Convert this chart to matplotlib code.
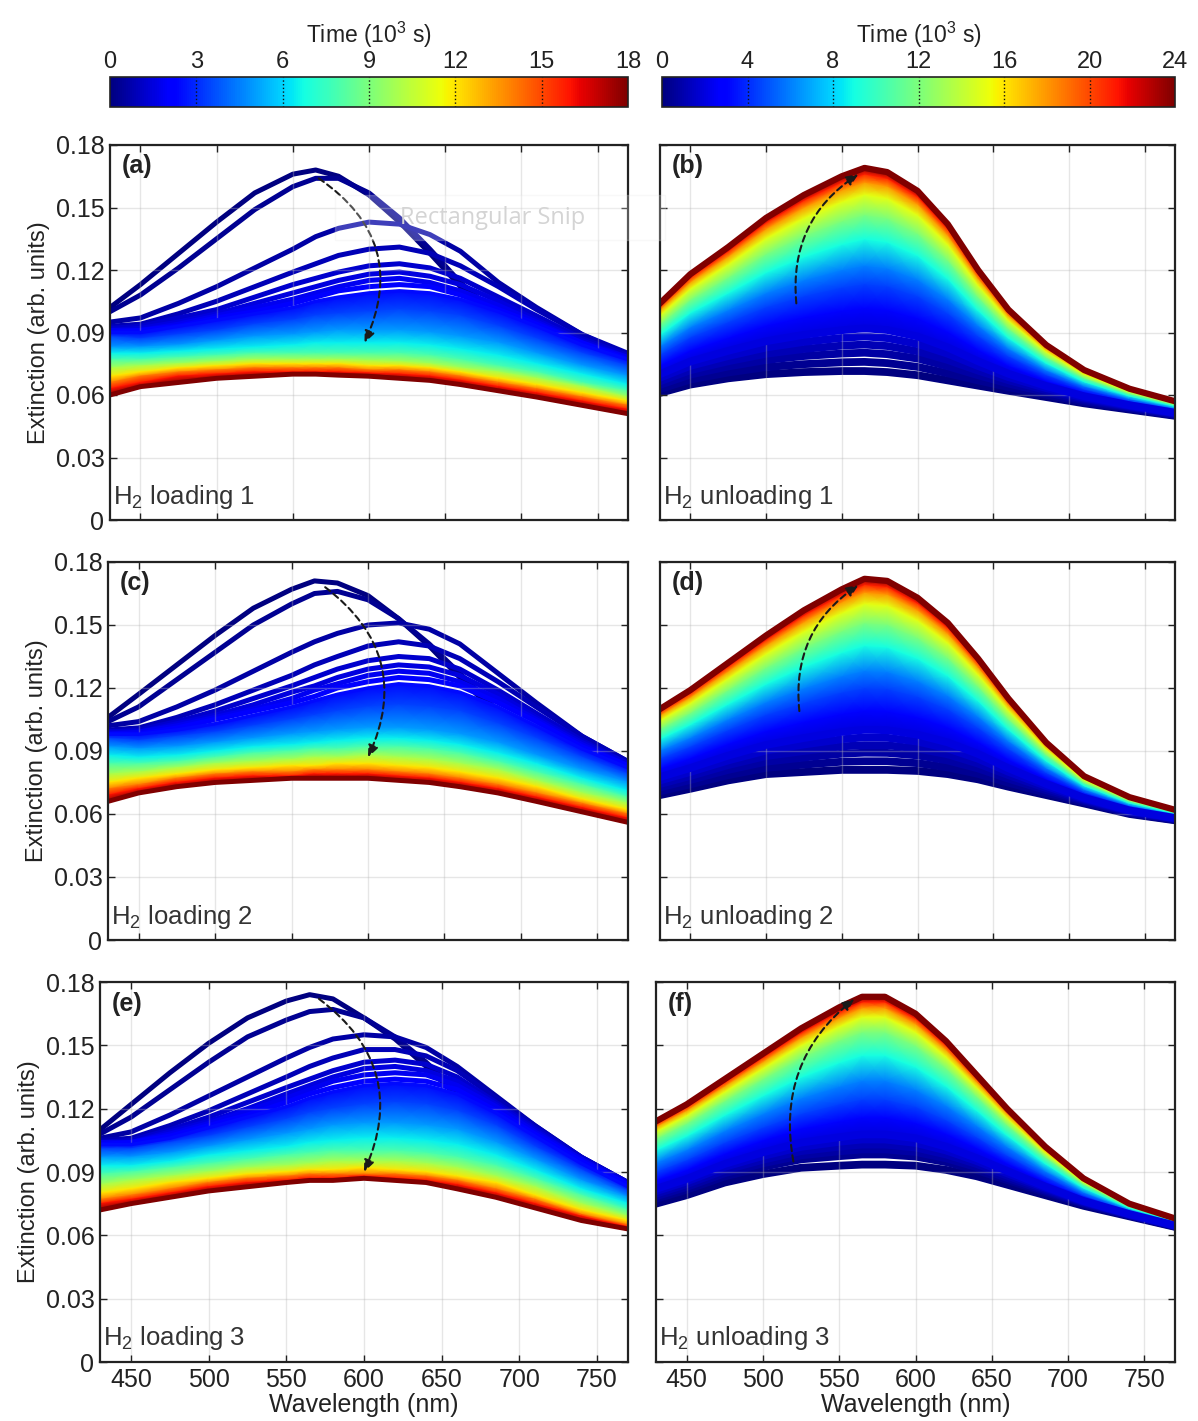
import numpy as np
import matplotlib
matplotlib.use("Agg")
import matplotlib.pyplot as plt
from matplotlib.colors import Normalize
from matplotlib.cm import ScalarMappable
from matplotlib.patches import Rectangle

plt.rcParams['font.family'] = ['Liberation Sans', 'DejaVu Sans']
plt.rcParams['mathtext.fontset'] = 'custom'
plt.rcParams['mathtext.rm'] = 'Liberation Sans'
plt.rcParams['mathtext.it'] = 'Liberation Sans:italic'

WL = [430, 450, 475, 500, 525, 550, 565, 580, 600, 620, 640, 660, 685, 710, 740, 770]

# times (10^3 s) of the spectra drawn as separate lines and of those drawn as a shaded band
LOAD_T_LINES = [0, 0.3, 0.6, 0.9, 1.2, 1.5, 1.8, 2.1]
LOAD_T_MESH = [2.4, 3.5, 5, 6.5, 8, 10, 12, 14, 16, 18]
UNLOAD_T_LINES = [0, 0.4, 0.8, 1.2, 1.6]
UNLOAD_T_MESH = [2, 3, 4.5, 6, 9, 12, 15, 18, 21, 24]

# (a) H2 loading 1
A_LINES = [
    [0.102, 0.113, 0.128, 0.143, 0.157, 0.166, 0.168, 0.165, 0.156, 0.143, 0.128, 0.112, 0.096, 0.085, 0.075, 0.068],
    [0.100, 0.108, 0.121, 0.135, 0.149, 0.160, 0.164, 0.164, 0.157, 0.145, 0.130, 0.114, 0.098, 0.086, 0.076, 0.069],
    [0.095, 0.097, 0.104, 0.112, 0.121, 0.130, 0.136, 0.140, 0.143, 0.142, 0.137, 0.129, 0.114, 0.102, 0.089, 0.079],
    [0.093, 0.094, 0.099, 0.105, 0.112, 0.119, 0.123, 0.127, 0.130, 0.131, 0.128, 0.122, 0.112, 0.101, 0.089, 0.080],
    [0.092, 0.093, 0.097, 0.101, 0.107, 0.113, 0.116, 0.119, 0.122, 0.123, 0.121, 0.116, 0.107, 0.098, 0.087, 0.079],
    [0.091, 0.092, 0.095, 0.099, 0.104, 0.109, 0.112, 0.115, 0.118, 0.119, 0.117, 0.113, 0.105, 0.096, 0.086, 0.078],
    [0.091, 0.091, 0.094, 0.098, 0.102, 0.106, 0.109, 0.112, 0.115, 0.116, 0.114, 0.110, 0.103, 0.095, 0.085, 0.078],
    [0.090, 0.091, 0.093, 0.097, 0.100, 0.104, 0.107, 0.110, 0.112, 0.113, 0.112, 0.108, 0.101, 0.094, 0.085, 0.077],
]
A_MESH = [
    [0.090, 0.090, 0.093, 0.096, 0.099, 0.102, 0.105, 0.107, 0.109, 0.110, 0.109, 0.106, 0.100, 0.093, 0.084, 0.077],
    [0.088, 0.087, 0.089, 0.091, 0.094, 0.096, 0.098, 0.099, 0.100, 0.101, 0.100, 0.098, 0.093, 0.087, 0.080, 0.074],
    [0.083, 0.083, 0.084, 0.086, 0.088, 0.089, 0.090, 0.091, 0.091, 0.091, 0.090, 0.088, 0.085, 0.080, 0.074, 0.069],
    [0.080, 0.080, 0.081, 0.082, 0.083, 0.084, 0.085, 0.085, 0.085, 0.085, 0.084, 0.082, 0.079, 0.075, 0.070, 0.065],
    [0.077, 0.077, 0.078, 0.079, 0.080, 0.080, 0.080, 0.080, 0.080, 0.080, 0.079, 0.077, 0.074, 0.071, 0.066, 0.062],
    [0.073, 0.074, 0.075, 0.076, 0.077, 0.077, 0.077, 0.077, 0.0765, 0.076, 0.075, 0.073, 0.071, 0.068, 0.064, 0.059],
    [0.069, 0.071, 0.073, 0.074, 0.075, 0.075, 0.075, 0.075, 0.074, 0.074, 0.073, 0.071, 0.068, 0.065, 0.061, 0.057],
    [0.066, 0.069, 0.071, 0.072, 0.073, 0.073, 0.073, 0.073, 0.072, 0.072, 0.071, 0.069, 0.066, 0.063, 0.059, 0.055],
    [0.063, 0.066, 0.069, 0.070, 0.071, 0.071, 0.071, 0.071, 0.0705, 0.070, 0.069, 0.067, 0.064, 0.061, 0.057, 0.053],
    [0.060, 0.064, 0.066, 0.068, 0.069, 0.070, 0.070, 0.0695, 0.069, 0.068, 0.067, 0.065, 0.062, 0.059, 0.055, 0.051],
]

# (c) H2 loading 2
C_LINES = [
    [0.106, 0.117, 0.131, 0.145, 0.158, 0.167, 0.171, 0.170, 0.164, 0.153, 0.140, 0.125, 0.107, 0.093, 0.081, 0.073],
    [0.104, 0.111, 0.124, 0.137, 0.150, 0.160, 0.165, 0.166, 0.162, 0.153, 0.141, 0.127, 0.109, 0.095, 0.082, 0.074],
    [0.102, 0.104, 0.111, 0.119, 0.128, 0.137, 0.142, 0.146, 0.150, 0.151, 0.148, 0.141, 0.127, 0.113, 0.097, 0.085],
    [0.100, 0.101, 0.106, 0.112, 0.119, 0.126, 0.131, 0.135, 0.140, 0.142, 0.140, 0.134, 0.123, 0.111, 0.097, 0.085],
    [0.099, 0.100, 0.104, 0.109, 0.115, 0.121, 0.125, 0.129, 0.133, 0.135, 0.134, 0.129, 0.119, 0.108, 0.095, 0.084],
    [0.099, 0.099, 0.103, 0.107, 0.112, 0.118, 0.121, 0.125, 0.129, 0.131, 0.130, 0.126, 0.117, 0.106, 0.094, 0.084],
    [0.098, 0.099, 0.102, 0.106, 0.110, 0.115, 0.119, 0.122, 0.126, 0.128, 0.127, 0.123, 0.115, 0.105, 0.093, 0.083],
    [0.098, 0.098, 0.101, 0.105, 0.109, 0.113, 0.116, 0.120, 0.123, 0.125, 0.124, 0.121, 0.113, 0.104, 0.092, 0.083],
]
C_MESH = [
    [0.098, 0.098, 0.100, 0.103, 0.107, 0.111, 0.114, 0.117, 0.120, 0.122, 0.121, 0.118, 0.111, 0.102, 0.091, 0.082],
    [0.096, 0.095, 0.097, 0.099, 0.102, 0.105, 0.107, 0.109, 0.111, 0.112, 0.111, 0.109, 0.103, 0.096, 0.087, 0.079],
    [0.092, 0.091, 0.092, 0.094, 0.096, 0.098, 0.099, 0.100, 0.101, 0.101, 0.100, 0.098, 0.094, 0.088, 0.081, 0.075],
    [0.088, 0.087, 0.088, 0.090, 0.092, 0.093, 0.094, 0.095, 0.096, 0.096, 0.095, 0.093, 0.089, 0.084, 0.077, 0.071],
    [0.084, 0.084, 0.085, 0.087, 0.089, 0.090, 0.091, 0.091, 0.092, 0.092, 0.091, 0.089, 0.085, 0.080, 0.074, 0.068],
    [0.079, 0.080, 0.082, 0.084, 0.085, 0.086, 0.087, 0.087, 0.088, 0.087, 0.086, 0.084, 0.081, 0.076, 0.070, 0.065],
    [0.075, 0.077, 0.079, 0.081, 0.082, 0.083, 0.083, 0.084, 0.084, 0.083, 0.082, 0.080, 0.077, 0.073, 0.067, 0.062],
    [0.072, 0.074, 0.077, 0.079, 0.080, 0.080, 0.081, 0.081, 0.081, 0.080, 0.079, 0.077, 0.074, 0.070, 0.065, 0.060],
    [0.069, 0.072, 0.075, 0.077, 0.078, 0.078, 0.079, 0.079, 0.079, 0.078, 0.077, 0.075, 0.072, 0.068, 0.063, 0.058],
    [0.066, 0.070, 0.073, 0.075, 0.076, 0.077, 0.077, 0.077, 0.077, 0.076, 0.075, 0.073, 0.070, 0.066, 0.061, 0.056],
]

# (e) H2 loading 3
E_LINES = [
    [0.110, 0.122, 0.137, 0.151, 0.163, 0.171, 0.174, 0.172, 0.163, 0.153, 0.140, 0.126, 0.110, 0.097, 0.087, 0.079],
    [0.108, 0.116, 0.129, 0.142, 0.154, 0.162, 0.166, 0.167, 0.163, 0.154, 0.142, 0.128, 0.112, 0.099, 0.088, 0.080],
    [0.106, 0.109, 0.117, 0.126, 0.135, 0.144, 0.149, 0.153, 0.155, 0.154, 0.149, 0.140, 0.126, 0.112, 0.097, 0.085],
    [0.105, 0.106, 0.112, 0.119, 0.127, 0.135, 0.140, 0.144, 0.148, 0.148, 0.145, 0.138, 0.125, 0.112, 0.097, 0.085],
    [0.104, 0.105, 0.110, 0.116, 0.123, 0.130, 0.134, 0.138, 0.142, 0.143, 0.141, 0.135, 0.123, 0.111, 0.097, 0.085],
    [0.104, 0.104, 0.109, 0.114, 0.120, 0.127, 0.131, 0.135, 0.139, 0.140, 0.138, 0.133, 0.122, 0.110, 0.096, 0.085],
    [0.104, 0.104, 0.108, 0.113, 0.119, 0.125, 0.129, 0.133, 0.136, 0.137, 0.136, 0.131, 0.121, 0.109, 0.096, 0.084],
    [0.103, 0.104, 0.107, 0.112, 0.117, 0.123, 0.127, 0.130, 0.133, 0.134, 0.133, 0.129, 0.119, 0.108, 0.095, 0.084],
]
E_MESH = [
    [0.103, 0.103, 0.106, 0.111, 0.116, 0.121, 0.125, 0.128, 0.131, 0.132, 0.131, 0.127, 0.118, 0.107, 0.094, 0.083],
    [0.101, 0.101, 0.104, 0.107, 0.111, 0.115, 0.118, 0.120, 0.122, 0.123, 0.122, 0.119, 0.112, 0.102, 0.091, 0.081],
    [0.097, 0.097, 0.099, 0.102, 0.105, 0.108, 0.110, 0.112, 0.113, 0.113, 0.112, 0.110, 0.104, 0.096, 0.086, 0.078],
    [0.093, 0.093, 0.095, 0.098, 0.100, 0.102, 0.104, 0.105, 0.106, 0.106, 0.105, 0.103, 0.098, 0.091, 0.082, 0.075],
    [0.089, 0.090, 0.092, 0.094, 0.096, 0.098, 0.099, 0.100, 0.100, 0.100, 0.099, 0.097, 0.093, 0.087, 0.079, 0.072],
    [0.084, 0.086, 0.088, 0.090, 0.092, 0.093, 0.094, 0.095, 0.095, 0.095, 0.094, 0.092, 0.088, 0.083, 0.075, 0.069],
    [0.080, 0.082, 0.085, 0.087, 0.089, 0.090, 0.091, 0.091, 0.092, 0.091, 0.090, 0.088, 0.085, 0.079, 0.072, 0.067],
    [0.077, 0.079, 0.082, 0.085, 0.087, 0.088, 0.089, 0.089, 0.089, 0.089, 0.088, 0.086, 0.082, 0.077, 0.070, 0.065],
    [0.075, 0.077, 0.080, 0.083, 0.085, 0.086, 0.087, 0.087, 0.088, 0.087, 0.086, 0.084, 0.080, 0.075, 0.069, 0.064],
    [0.072, 0.075, 0.078, 0.081, 0.083, 0.085, 0.086, 0.086, 0.087, 0.086, 0.085, 0.082, 0.078, 0.073, 0.067, 0.063],
]

# (b) H2 unloading 1
B_LINES = [
    [0.0610, 0.0650, 0.0680, 0.0700, 0.0710, 0.0715, 0.0715, 0.0710, 0.0695, 0.0670, 0.0645, 0.0620, 0.0590, 0.0560, 0.0530, 0.0500],
    [0.0629, 0.0674, 0.0708, 0.0734, 0.0748, 0.0757, 0.0759, 0.0753, 0.0735, 0.0704, 0.0670, 0.0638, 0.0601, 0.0567, 0.0535, 0.0503],
    [0.0649, 0.0698, 0.0737, 0.0768, 0.0787, 0.0799, 0.0803, 0.0796, 0.0775, 0.0738, 0.0695, 0.0655, 0.0613, 0.0574, 0.0539, 0.0506],
    [0.0666, 0.0719, 0.0762, 0.0798, 0.0821, 0.0837, 0.0842, 0.0835, 0.0810, 0.0768, 0.0717, 0.0671, 0.0623, 0.0581, 0.0543, 0.0509],
    [0.0683, 0.0740, 0.0787, 0.0828, 0.0855, 0.0874, 0.0881, 0.0873, 0.0845, 0.0798, 0.0739, 0.0686, 0.0633, 0.0587, 0.0547, 0.0512],
]
B_MESH = [
    [0.0700, 0.0761, 0.0812, 0.0858, 0.0889, 0.0911, 0.0920, 0.0912, 0.0881, 0.0828, 0.0762, 0.0702, 0.0643, 0.0594, 0.0551, 0.0515],
    [0.0743, 0.0814, 0.0875, 0.0933, 0.0974, 0.1005, 0.1017, 0.1008, 0.0969, 0.0903, 0.0817, 0.0741, 0.0668, 0.0610, 0.0561, 0.0522],
    [0.0795, 0.0878, 0.0951, 0.1023, 0.1076, 0.1117, 0.1134, 0.1123, 0.1076, 0.0993, 0.0884, 0.0788, 0.0698, 0.0629, 0.0573, 0.0530],
    [0.0834, 0.0926, 0.1008, 0.1090, 0.1152, 0.1201, 0.1222, 0.1209, 0.1155, 0.1060, 0.0934, 0.0823, 0.0720, 0.0643, 0.0582, 0.0536],
    [0.0890, 0.0995, 0.1090, 0.1188, 0.1263, 0.1323, 0.1349, 0.1334, 0.1270, 0.1158, 0.1006, 0.0874, 0.0753, 0.0664, 0.0595, 0.0546],
    [0.0941, 0.1058, 0.1165, 0.1278, 0.1365, 0.1435, 0.1466, 0.1449, 0.1376, 0.1248, 0.1072, 0.0920, 0.0783, 0.0683, 0.0607, 0.0554],
    [0.0984, 0.1111, 0.1228, 0.1353, 0.1450, 0.1528, 0.1563, 0.1545, 0.1465, 0.1323, 0.1128, 0.0959, 0.0808, 0.0699, 0.0617, 0.0561],
    [0.1010, 0.1143, 0.1266, 0.1398, 0.1501, 0.1585, 0.1622, 0.1603, 0.1518, 0.1368, 0.1161, 0.0983, 0.0823, 0.0709, 0.0623, 0.0565],
    [0.1027, 0.1164, 0.1291, 0.1428, 0.1535, 0.1622, 0.1661, 0.1641, 0.1553, 0.1398, 0.1183, 0.0998, 0.0833, 0.0715, 0.0627, 0.0568],
    [0.1040, 0.1180, 0.1310, 0.1450, 0.1560, 0.1650, 0.1690, 0.1670, 0.1580, 0.1420, 0.1200, 0.1010, 0.0840, 0.0720, 0.0630, 0.0570],
]

# (d) H2 unloading 2
D_LINES = [
    [0.0690, 0.0720, 0.0760, 0.0790, 0.0800, 0.0810, 0.0810, 0.0810, 0.0805, 0.0790, 0.0765, 0.0730, 0.0690, 0.0650, 0.0600, 0.0570],
    [0.0708, 0.0741, 0.0785, 0.0820, 0.0835, 0.0849, 0.0851, 0.0851, 0.0842, 0.0822, 0.0791, 0.0749, 0.0701, 0.0656, 0.0604, 0.0572],
    [0.0727, 0.0762, 0.0810, 0.0849, 0.0869, 0.0887, 0.0892, 0.0891, 0.0879, 0.0855, 0.0817, 0.0768, 0.0713, 0.0662, 0.0607, 0.0575],
    [0.0743, 0.0781, 0.0833, 0.0876, 0.0900, 0.0922, 0.0928, 0.0927, 0.0912, 0.0884, 0.0840, 0.0785, 0.0723, 0.0667, 0.0610, 0.0577],
    [0.0760, 0.0800, 0.0855, 0.0902, 0.0931, 0.0956, 0.0965, 0.0963, 0.0945, 0.0912, 0.0863, 0.0801, 0.0733, 0.0672, 0.0614, 0.0579],
]
D_MESH = [
    [0.0776, 0.0819, 0.0878, 0.0929, 0.0962, 0.0991, 0.1001, 0.0999, 0.0978, 0.0941, 0.0886, 0.0818, 0.0743, 0.0677, 0.0617, 0.0581],
    [0.0817, 0.0866, 0.0934, 0.0995, 0.1039, 0.1077, 0.1092, 0.1089, 0.1061, 0.1013, 0.0943, 0.0860, 0.0768, 0.0690, 0.0625, 0.0586],
    [0.0866, 0.0922, 0.1001, 0.1074, 0.1131, 0.1180, 0.1201, 0.1197, 0.1160, 0.1100, 0.1012, 0.0911, 0.0798, 0.0706, 0.0634, 0.0592],
    [0.0903, 0.0964, 0.1051, 0.1133, 0.1200, 0.1257, 0.1283, 0.1278, 0.1234, 0.1164, 0.1064, 0.0948, 0.0820, 0.0718, 0.0642, 0.0596],
    [0.0957, 0.1026, 0.1124, 0.1219, 0.1301, 0.1369, 0.1402, 0.1395, 0.1341, 0.1258, 0.1139, 0.1003, 0.0853, 0.0735, 0.0652, 0.0603],
    [0.1006, 0.1082, 0.1191, 0.1298, 0.1393, 0.1472, 0.1511, 0.1503, 0.1440, 0.1344, 0.1208, 0.1053, 0.0883, 0.0750, 0.0662, 0.0609],
    [0.1047, 0.1129, 0.1247, 0.1364, 0.1470, 0.1558, 0.1602, 0.1593, 0.1523, 0.1416, 0.1265, 0.1095, 0.0908, 0.0763, 0.0670, 0.0614],
    [0.1071, 0.1157, 0.1281, 0.1404, 0.1516, 0.1610, 0.1656, 0.1647, 0.1572, 0.1460, 0.1300, 0.1121, 0.0923, 0.0771, 0.0674, 0.0617],
    [0.1088, 0.1176, 0.1303, 0.1430, 0.1547, 0.1644, 0.1693, 0.1683, 0.1605, 0.1488, 0.1323, 0.1137, 0.0933, 0.0776, 0.0678, 0.0619],
    [0.1100, 0.1190, 0.1320, 0.1450, 0.1570, 0.1670, 0.1720, 0.1710, 0.1630, 0.1510, 0.1340, 0.1150, 0.0940, 0.0780, 0.0680, 0.0620],
]

# (f) H2 unloading 3
F_LINES = [
    [0.0750, 0.0790, 0.0850, 0.0890, 0.0920, 0.0930, 0.0935, 0.0935, 0.0930, 0.0910, 0.0880, 0.0840, 0.0790, 0.0740, 0.0690, 0.0640],
    [0.0773, 0.0816, 0.0879, 0.0924, 0.0960, 0.0975, 0.0983, 0.0983, 0.0973, 0.0947, 0.0909, 0.0862, 0.0804, 0.0748, 0.0694, 0.0642],
    [0.0785, 0.0829, 0.0894, 0.0941, 0.0979, 0.0998, 0.1007, 0.1007, 0.0995, 0.0965, 0.0923, 0.0872, 0.0811, 0.0752, 0.0695, 0.0644],
    [0.0797, 0.0842, 0.0909, 0.0958, 0.0999, 0.1020, 0.1030, 0.1030, 0.1016, 0.0983, 0.0938, 0.0883, 0.0818, 0.0756, 0.0697, 0.0645],
    [0.0809, 0.0855, 0.0924, 0.0976, 0.1019, 0.1043, 0.1054, 0.1054, 0.1038, 0.1002, 0.0952, 0.0894, 0.0825, 0.0760, 0.0699, 0.0646],
]
F_MESH = [
    [0.0820, 0.0867, 0.0938, 0.0993, 0.1039, 0.1065, 0.1078, 0.1078, 0.1060, 0.1020, 0.0966, 0.0905, 0.0831, 0.0763, 0.0701, 0.0647],
    [0.0859, 0.0910, 0.0987, 0.1050, 0.1105, 0.1140, 0.1158, 0.1158, 0.1132, 0.1081, 0.1014, 0.0941, 0.0854, 0.0776, 0.0707, 0.0651],
    [0.0902, 0.0958, 0.1041, 0.1112, 0.1177, 0.1223, 0.1245, 0.1245, 0.1211, 0.1148, 0.1067, 0.0980, 0.0880, 0.0791, 0.0713, 0.0656],
    [0.0945, 0.1005, 0.1095, 0.1175, 0.1250, 0.1305, 0.1333, 0.1333, 0.1290, 0.1215, 0.1120, 0.1020, 0.0905, 0.0805, 0.0720, 0.0660],
    [0.1004, 0.1070, 0.1169, 0.1261, 0.1349, 0.1418, 0.1452, 0.1452, 0.1398, 0.1307, 0.1192, 0.1074, 0.0940, 0.0825, 0.0729, 0.0666],
    [0.1058, 0.1130, 0.1237, 0.1340, 0.1441, 0.1523, 0.1563, 0.1563, 0.1499, 0.1392, 0.1259, 0.1124, 0.0972, 0.0843, 0.0737, 0.0672],
    [0.1093, 0.1168, 0.1281, 0.1392, 0.1501, 0.1590, 0.1635, 0.1635, 0.1564, 0.1447, 0.1302, 0.1157, 0.0992, 0.0854, 0.0743, 0.0675],
    [0.1115, 0.1192, 0.1308, 0.1423, 0.1537, 0.1631, 0.1678, 0.1678, 0.1603, 0.1480, 0.1329, 0.1177, 0.1005, 0.0862, 0.0746, 0.0677],
    [0.1128, 0.1207, 0.1325, 0.1443, 0.1560, 0.1658, 0.1706, 0.1706, 0.1628, 0.1502, 0.1346, 0.1189, 0.1013, 0.0866, 0.0748, 0.0679],
    [0.1140, 0.1220, 0.1340, 0.1460, 0.1580, 0.1680, 0.1730, 0.1730, 0.1650, 0.1520, 0.1360, 0.1200, 0.1020, 0.0870, 0.0750, 0.0680],
]

# dashed guide arrows (start, end, curvature)
A_ARROW = ((567, 0.164), (597, 0.085), -0.42)
C_ARROW = ((572, 0.168), (600, 0.087), -0.40)
E_ARROW = ((571, 0.172), (600, 0.090), -0.40)
B_ARROW = ((520, 0.104), (561, 0.166), -0.30)
D_ARROW = ((522, 0.109), (561, 0.169), -0.30)
F_ARROW = ((520, 0.095), (560, 0.172), -0.30)

LETTERS = ['(a)', '(b)', '(c)', '(d)', '(e)', '(f)']
NAMES = ['loading 1', 'unloading 1', 'loading 2', 'unloading 2', 'loading 3', 'unloading 3']

X_TICKS = [450, 500, 550, 600, 650, 700, 750]
Y_TICKS = [0, 0.03, 0.06, 0.09, 0.12, 0.15, 0.18]
Y_TICKLABELS = ['0', '0.03', '0.06', '0.09', '0.12', '0.15', '0.18']
CB_LOAD_TICKS = [0, 3, 6, 9, 12, 15, 18]
CB_UNLOAD_TICKS = [0, 4, 8, 12, 16, 20, 24]

W, H = 1198, 1421
TXT = '#222222'


def rect(l, t, r, b):
    return [l / W, 1 - b / H, (r - l) / W, (b - t) / H]


def draw_panel(ax, t_lines, y_lines, t_mesh, y_mesh, tmax, unloading):
    cmap = plt.get_cmap('jet')
    norm = Normalize(0, tmax)
    lw = 5.6 if unloading else 3.6
    for i, (t, y) in enumerate(zip(t_lines, y_lines)):
        ax.plot(WL, y, color=cmap(norm(t)), lw=lw, zorder=2 + 0.01 * i,
                solid_joinstyle='round')
    X = np.tile(np.array(WL, float), (len(t_mesh), 1))
    Y = np.array(y_mesh)
    C = np.repeat(np.array(t_mesh, float)[:, None], len(WL), axis=1)
    ax.pcolormesh(X, Y, C, shading='gouraud', cmap=cmap, norm=norm, zorder=3)
    ax.plot(WL, y_mesh[0], color=cmap(norm(t_mesh[0])),
            lw=lw if unloading else 2.5, zorder=3.1)
    ax.plot(WL, y_mesh[-1], color=cmap(norm(t_mesh[-1])),
            lw=4.5 if unloading else 3.5, zorder=3.2, solid_joinstyle='round')


fig = plt.figure(figsize=(W / 100, H / 100), dpi=100)

panel_rects = [
    rect(110, 145, 628, 520), rect(660, 145, 1175, 520),
    rect(108, 562, 628, 940), rect(660, 562, 1175, 940),
    rect(100, 982, 628, 1362), rect(656, 982, 1175, 1362),
]
panel_data = [
    (LOAD_T_LINES, A_LINES, LOAD_T_MESH, A_MESH, 18, False, A_ARROW),
    (UNLOAD_T_LINES, B_LINES, UNLOAD_T_MESH, B_MESH, 24, True, B_ARROW),
    (LOAD_T_LINES, C_LINES, LOAD_T_MESH, C_MESH, 18, False, C_ARROW),
    (UNLOAD_T_LINES, D_LINES, UNLOAD_T_MESH, D_MESH, 24, True, D_ARROW),
    (LOAD_T_LINES, E_LINES, LOAD_T_MESH, E_MESH, 18, False, E_ARROW),
    (UNLOAD_T_LINES, F_LINES, UNLOAD_T_MESH, F_MESH, 24, True, F_ARROW),
]

for k, (r, d) in enumerate(zip(panel_rects, panel_data)):
    ax = fig.add_axes(r)
    t_l, y_l, t_m, y_m, tmax, unl, arrow = d
    draw_panel(ax, t_l, y_l, t_m, y_m, tmax, unl)
    ax.set_xlim(430, 770)
    ax.set_ylim(0, 0.18)
    ax.set_xticks(X_TICKS)
    ax.set_yticks(Y_TICKS)
    ax.set_axisbelow(False)
    ax.grid(True, color='#b8b8b8', lw=1.0, alpha=0.35)
    ax.tick_params(direction='in', length=5, width=1, top=True, right=True,
                   labelsize=18, colors=TXT, pad=4)
    for s in ax.spines.values():
        s.set_linewidth(1.6)
        s.set_color(TXT)
        s.set_zorder(7)
    col = k % 2
    row = k // 2
    if col == 0:
        ax.set_yticklabels(Y_TICKLABELS)
        ax.set_ylabel('Extinction (arb. units)', fontsize=17, color=TXT, labelpad=4)
    else:
        ax.tick_params(labelleft=False)
    if row == 2:
        ax.set_xlabel('Wavelength (nm)', fontsize=18, color=TXT, labelpad=1)
    else:
        ax.tick_params(labelbottom=False)
    (x0, y0), (x1, y1), rad = arrow
    ax.annotate('', xy=(x1, y1), xytext=(x0, y0), zorder=6,
                arrowprops=dict(arrowstyle='-|>,head_length=0.7,head_width=0.3',
                                connectionstyle='arc3,rad=%s' % rad,
                                color='#1a1a1a', lw=1.5, ls=(0, (3, 2)),
                                shrinkA=0, shrinkB=0))
    ax.text(0.022, 0.975, LETTERS[k], transform=ax.transAxes, fontsize=18,
            fontweight='bold', va='top', ha='left', color=TXT, zorder=8)
    ax.text(0.006, 0.025, 'H$_2$ ' + NAMES[k], transform=ax.transAxes,
            fontsize=18.5, va='bottom', ha='left', color='#333333', zorder=8)

# colour bars
for cb_rect, tmax, ticks in [(rect(110, 77, 628, 107), 18, CB_LOAD_TICKS),
                             (rect(662, 77, 1175, 107), 24, CB_UNLOAD_TICKS)]:
    cax = fig.add_axes(cb_rect)
    sm = ScalarMappable(norm=Normalize(0, tmax), cmap='jet')
    cb = fig.colorbar(sm, cax=cax, orientation='horizontal', ticks=ticks)
    cax.xaxis.set_ticks_position('top')
    cax.xaxis.set_label_position('top')
    cax.tick_params(length=0, labelsize=17, colors=TXT, pad=3)
    cb.outline.set_linewidth(1.2)
    cb.outline.set_edgecolor(TXT)
    for t in ticks[1:-1]:
        cax.axvline(t, color='#111111', ls=':', lw=1.0)
    cb.set_label('Time (10$^3$ s)', fontsize=16.5, color=TXT, labelpad=6)

# faint screen-capture overlay visible in the original image
fig.patches.append(Rectangle((335 / W, 1 - 240 / H), 330 / W, 45 / H,
                             transform=fig.transFigure, facecolor='white',
                             alpha=0.25, edgecolor='#e4e4e4', lw=1, zorder=20))
fig.text(400 / W, 1 - 218 / H, 'Rectangular Snip', fontsize=17, color='#d4d4d4',
         va='center', ha='left', zorder=21, family=['Open Sans', 'DejaVu Sans'])

fig.savefig('out.png', dpi=100)
